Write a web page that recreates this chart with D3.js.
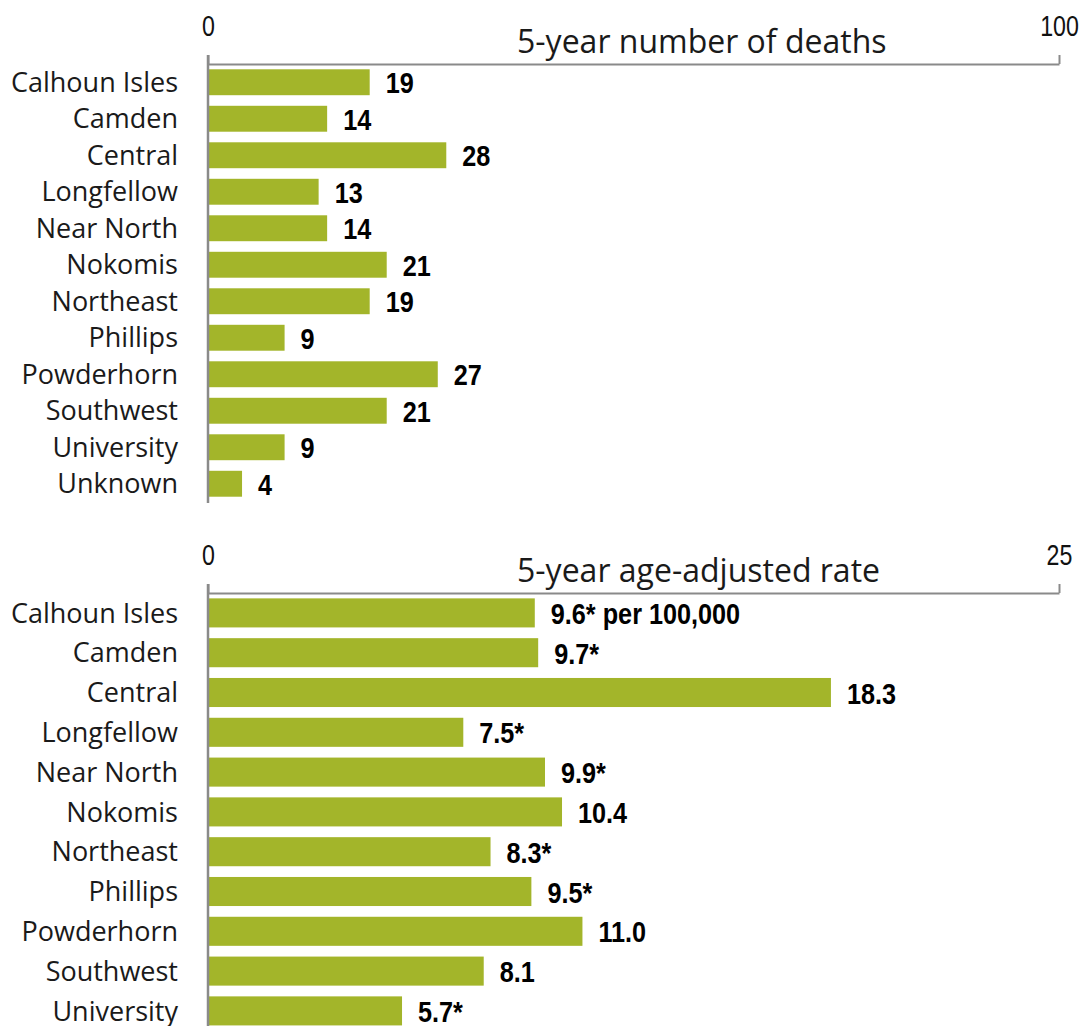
<!DOCTYPE html>
<html><head><meta charset="utf-8">
<script src="https://cdn.jsdelivr.net/npm/d3@7"></script>
<style>
body{margin:0;background:#fff;}
svg{display:block;}
text.cat{font-family:"Open Sans","Noto Sans",sans-serif;font-size:27px;fill:#1a1a1a;}
text.ttl{font-family:"Open Sans","Noto Sans",sans-serif;font-size:32px;fill:#1a1a1a;}
text.tk{font-family:"Liberation Sans","Arial",sans-serif;font-size:29px;fill:#111;}
text.val{font-family:"Liberation Sans","Arial",sans-serif;font-size:29px;font-weight:bold;fill:#000;}
</style></head>
<body>
<svg id="c" width="1086" height="1026"></svg>
<script>
const deathCategories = ["Calhoun Isles","Camden","Central","Longfellow","Near North","Nokomis","Northeast","Phillips","Powderhorn","Southwest","University","Unknown"];
const deathValues = [19,14,28,13,14,21,19,9,27,21,9,4];
const deathLabels = ["19","14","28","13","14","21","19","9","27","21","9","4"];
const deathTicks = [0,100];
const deathTitle = "5-year number of deaths";

const rateCategories = ["Calhoun Isles","Camden","Central","Longfellow","Near North","Nokomis","Northeast","Phillips","Powderhorn","Southwest","University"];
const rateValues = [9.6,9.7,18.3,7.5,9.9,10.4,8.3,9.5,11.0,8.1,5.7];
const rateLabels = ["9.6* per 100,000","9.7*","18.3","7.5*","9.9*","10.4","8.3*","9.5*","11.0","8.1","5.7*"];
const rateTicks = [0,25];
const rateTitle = "5-year age-adjusted rate";

const svg = d3.select("#c");
const BAR = "#a3b52a", AX = "#8a8a8a";
const x0 = 208, x1 = 1059;

// narrow a text horizontally (emulates a condensed face)
function squeeze(sel, f){
  sel.each(function(){
    const w = this.getComputedTextLength();
    d3.select(this).attr("textLength", w*f).attr("lengthAdjust","spacingAndGlyphs");
  });
}

function panel(cfg){
  const g = svg.append("g");
  const x = d3.scaleLinear().domain([cfg.ticks[0], cfg.ticks[1]]).range([x0, x1]);
  const y = d3.scaleBand().domain(cfg.cats).range([cfg.axisY, cfg.axisY + cfg.step*cfg.cats.length])
    .paddingInner(cfg.pad).paddingOuter(cfg.pad/2);
  // title
  g.append("text").attr("class","ttl").attr("x",cfg.titleX).attr("y",cfg.axisY-11).text(cfg.title);
  // bars
  g.selectAll("rect").data(cfg.vals).join("rect")
    .attr("x", x(0)+1).attr("y",(d,i)=>y(cfg.cats[i]))
    .attr("width", d=>x(d)-x(0)-1).attr("height", y.bandwidth())
    .attr("fill", BAR);
  // value labels
  g.selectAll("text.val").data(cfg.vals).join("text").attr("class","val")
    .attr("x", d=>x(d)+16).attr("y",(d,i)=>y(cfg.cats[i])+y.bandwidth()/2).attr("dy","0.38em")
    .text((d,i)=>cfg.labels[i])
    .call(squeeze, 0.87);
  // top axis
  const ax = g.append("g").attr("transform",`translate(0,${cfg.axisY})`)
    .call(d3.axisTop(x).tickValues(cfg.ticks).tickFormat(d3.format("d")).tickSize(9).tickSizeOuter(0).tickPadding(19));
  ax.selectAll("path,line").attr("stroke",AX).attr("stroke-width",2);
  ax.selectAll(".tick text").attr("class","tk").call(squeeze, 0.8);
  // left axis with category labels
  const ay = g.append("g").attr("transform",`translate(${x0},0)`)
    .call(d3.axisLeft(y).tickSize(0).tickPadding(30));
  ay.select(".domain").remove();
  ay.selectAll(".tick text").attr("class","cat").attr("dy","0.36em");
  g.append("line").attr("x1",x0).attr("x2",x0).attr("y1",cfg.axisY-9).attr("y2",cfg.lineEnd)
    .attr("stroke",AX).attr("stroke-width",2.5);
}

panel({cats:deathCategories, vals:deathValues, labels:deathLabels, ticks:deathTicks, title:deathTitle,
  axisY:64, step:36.5, pad:0.29, titleX:517, lineEnd:503});
panel({cats:rateCategories, vals:rateValues, labels:rateLabels, ticks:rateTicks, title:rateTitle,
  axisY:593, step:39.8, pad:0.27, titleX:517, lineEnd:1030});
</script>
</body></html>
